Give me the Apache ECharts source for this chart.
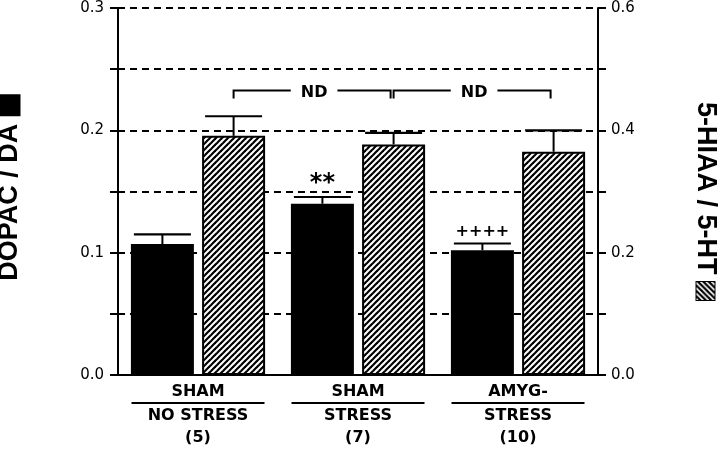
<!DOCTYPE html>
<html><head><meta charset="utf-8">
<script src="https://cdn.jsdelivr.net/npm/echarts@6/dist/echarts.min.js"></script>
<style>html,body{margin:0;padding:0;background:#fff}#c{width:720px;height:450px}</style>
</head><body><div id="c"></div>
<script>
// ---- data ----
const categories = ['SHAM NO STRESS', 'SHAM STRESS', 'AMYG- STRESS'];
const labelTop = ['SHAM', 'SHAM', 'AMYG-'];
const labelBottom = ['NO STRESS', 'STRESS', 'STRESS'];
const labelN = ['(5)', '(7)', '(10)'];
const dopacDa = [0.107, 0.140, 0.102];
const dopacDaErr = [0.008, 0.0055, 0.0055];
const hiaaHt = [0.391, 0.377, 0.365];
const hiaaHtErr = [0.032, 0.019, 0.035];
const dopacMarks = ['', '**', '++++'];
const leftTickLabels = ['0.0', '0.1', '0.2', '0.3'];
const rightTickLabels = ['0.0', '0.2', '0.4', '0.6'];
const bracketFrom = [0, 1];
const bracketTo = [1, 2];
const bracketText = ['ND', 'ND'];
const bracketLevel = 0.465;

// ---- style ----
const BAR_W = 63, BAR_GAP = 0.13, CAP = 57;
const OFF = (BAR_W + BAR_W * BAR_GAP) / 2;
const FONT = 'DejaVu Sans';
const NAME_FONT = '"Liberation Sans", Arial, sans-serif';

function hatchCanvas(size, period, lw) {
  const c = document.createElement('canvas');
  c.width = size; c.height = size;
  const g = c.getContext('2d');
  g.fillStyle = '#fff'; g.fillRect(0, 0, size, size);
  g.strokeStyle = '#000'; g.lineWidth = lw;
  for (let k = -size; k <= 2 * size; k += period) {
    g.beginPath(); g.moveTo(k - period, size + period); g.lineTo(k + size + period, -period); g.stroke();
  }
  return c;
}
const tile = hatchCanvas(6, 6, 2.2);
const icon = hatchCanvas(20, 6, 2.4);

function errSeries(values, errs, marks, yAxisIndex, side) {
  return {
    type: 'custom', yAxisIndex: yAxisIndex, z: 5, silent: true,
    data: values.map((v, i) => [i, v, v + errs[i]]),
    renderItem: function (params, api) {
      const i = api.value(0);
      const top = api.coord([i, api.value(1)]);
      const hi = api.coord([i, api.value(2)]);
      const x = top[0] + side * OFF;
      const ch = [
        { type: 'line', shape: { x1: x, y1: top[1], x2: x, y2: hi[1] }, style: { stroke: '#000', lineWidth: 2 } },
        { type: 'line', shape: { x1: x - CAP / 2, y1: hi[1], x2: x + CAP / 2, y2: hi[1] }, style: { stroke: '#000', lineWidth: 2.2 } }
      ];
      const m = marks && marks[params.dataIndex];
      if (m) {
        const star = m.indexOf('*') >= 0;
        ch.push({ type: 'text', x: x, y: hi[1] - (star ? 13 : 12), style: {
          text: m, fill: '#000', fontFamily: FONT, fontWeight: 'bold', fontSize: star ? 24 : 16,
          align: 'center', verticalAlign: 'middle' } });
      }
      return { type: 'group', children: ch };
    }
  };
}

const chart = echarts.init(document.getElementById('c'), null, { renderer: 'canvas' });
chart.setOption({
  animation: false,
  backgroundColor: '#fff',
  grid: { left: 118, right: 122, top: 8, bottom: 75, containLabel: false, outerBoundsMode: 'none' },
  xAxis: {
    type: 'category', data: categories,
    axisLine: { lineStyle: { color: '#000', width: 2 } },
    axisTick: { show: false },
    axisLabel: {
      interval: 0, margin: 8, color: '#000',
      formatter: function (v, i) {
        return '{a|' + labelTop[i] + '}\n{ln|}\n{b|' + labelBottom[i] + '}\n{c|' + labelN[i] + '}';
      },
      rich: {
        a: { fontFamily: FONT, fontWeight: 'bold', fontSize: 16, lineHeight: 18, color: '#000' },
        ln: { width: 133, height: 2, lineHeight: 4, backgroundColor: '#000' },
        b: { fontFamily: FONT, fontWeight: 'bold', fontSize: 16, lineHeight: 21, color: '#000' },
        c: { fontFamily: FONT, fontWeight: 'bold', fontSize: 16, lineHeight: 23, color: '#000' }
      }
    }
  },
  yAxis: [{
    type: 'value', min: 0, max: 0.3, interval: 0.05, position: 'left',
    name: '{t|DOPAC / DA }{sq|}', nameLocation: 'middle', nameRotate: 90, nameGap: 95,
    nameTextStyle: { padding: [0, 0, 0, 8], rich: {
      t: { fontFamily: NAME_FONT, fontWeight: 'bold', fontSize: 27, color: '#000' },
      sq: { width: 22, height: 22, backgroundColor: '#000' } } },
    axisLine: { show: true, lineStyle: { color: '#000', width: 2 } },
    axisTick: { show: true, length: 8, lineStyle: { color: '#000', width: 2 } },
    axisLabel: { margin: 14, color: '#000', fontFamily: FONT, fontSize: 15,
      formatter: function (v) { const s = v.toFixed(1); return Math.abs(v * 10 - Math.round(v * 10)) < 1e-6 && leftTickLabels.indexOf(s) >= 0 ? s : ''; } },
    splitLine: { show: true, lineStyle: { color: '#000', width: 2, type: [7, 5] } }
  }, {
    type: 'value', min: 0, max: 0.6, interval: 0.1, position: 'right',
    name: '{t|5-HIAA / 5-HT }{hs|}', nameLocation: 'middle', nameRotate: -90, nameGap: 94,
    nameTextStyle: { padding: [0, 0, 0, 19], rich: {
      t: { fontFamily: NAME_FONT, fontWeight: 'bold', fontSize: 27, color: '#000' },
      hs: { width: 18, height: 18, backgroundColor: { image: icon }, borderColor: '#000', borderWidth: 2 } } },
    axisLine: { show: true, lineStyle: { color: '#000', width: 2 } },
    axisTick: { show: true, length: 8, lineStyle: { color: '#000', width: 2 } },
    axisLabel: { margin: 13, color: '#000', fontFamily: FONT, fontSize: 15,
      formatter: function (v) { const s = v.toFixed(1); return rightTickLabels.indexOf(s) >= 0 ? s : ''; } },
    splitLine: { show: false }
  }],
  series: [
    { type: 'bar', name: 'DOPAC / DA', yAxisIndex: 0, data: dopacDa, barWidth: BAR_W, barGap: (BAR_GAP * 100) + '%',
      itemStyle: { color: '#000' }, silent: true },
    { type: 'bar', name: '5-HIAA / 5-HT', yAxisIndex: 1, data: hiaaHt, barWidth: BAR_W,
      itemStyle: { color: { image: tile, repeat: 'repeat' }, borderColor: '#000', borderWidth: 2 }, silent: true },
    errSeries(dopacDa, dopacDaErr, dopacMarks, 0, -1),
    errSeries(hiaaHt, hiaaHtErr, null, 1, 1),
    {
      type: 'custom', yAxisIndex: 1, z: 6, silent: true,
      data: bracketFrom.map((f, i) => [f, bracketLevel, bracketTo[i]]),
      renderItem: function (params, api) {
        const p1 = api.coord([api.value(0), api.value(1)]);
        const p2 = api.coord([api.value(2), api.value(1)]);
        const x1 = p1[0] + OFF, x2 = p2[0] + OFF - 3, y = p1[1];
        return { type: 'group', children: [
          { type: 'polyline', shape: { points: [[x1, y + 8], [x1, y], [x2, y], [x2, y + 8]] }, style: { stroke: '#000', fill: null, lineWidth: 2 } },
          { type: 'text', x: (x1 + x2) / 2 + 2, y: y + 2, style: { text: bracketText[params.dataIndex], fill: '#000',
            fontFamily: FONT, fontWeight: 'bold', fontSize: 16, align: 'center', verticalAlign: 'middle',
            backgroundColor: '#fff', padding: [2, 10] } }
        ] };
      }
    }
  ]
});
</script></body></html>
